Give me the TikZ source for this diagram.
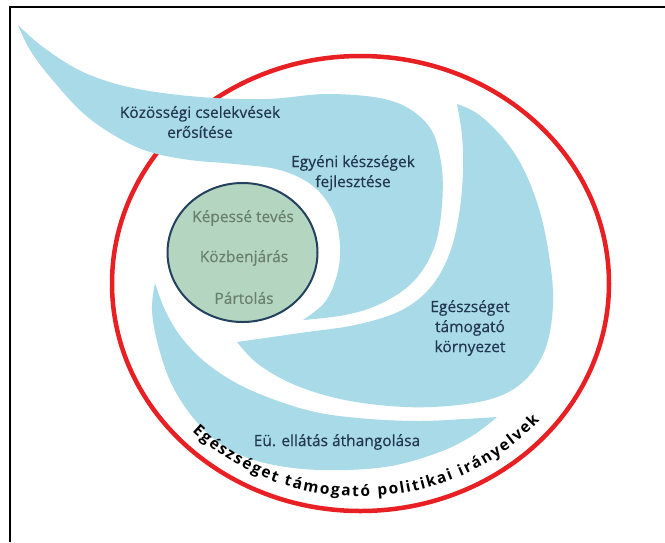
\documentclass[tikz,border=0pt]{standalone}
\usepackage{fontspec}
\setmainfont{Open Sans}
\newfontfamily\armfont{Open Sans}[FakeBold=0.4]
\usetikzlibrary{shapes.geometric,decorations.text}

\definecolor{swirlblue}{RGB}{168,218,231}
\definecolor{coregreen}{RGB}{180,214,192}
\definecolor{coreline}{RGB}{35,65,95}
\definecolor{ringred}{RGB}{232,32,36}
\definecolor{armink}{RGB}{35,55,80}
\definecolor{coreink}{RGB}{105,128,108}

\begin{document}
\begin{tikzpicture}[
  x=1pt, y=-1pt,
  arm/.style={fill=swirlblue, draw=none},
  armtext/.style={font=\armfont\fontsize{15.5}{20}\selectfont, text=armink, align=center},
  coretext/.style={font=\armfont\fontsize{15.5}{16}\selectfont, text=coreink}
]
\useasboundingbox (0,0) rectangle (665,542);
\fill[white] (0,0) rectangle (665,542);
\draw[line width=2pt] (10,542) -- (10,7) -- (665,7);

% Outer ring (policy)
\draw[ringred, line width=4.5pt] (360.5,283.5) ellipse [x radius=248.5, y radius=227.5];

% Swirl arms
\fill[arm] plot[smooth, tension=0.6] coordinates {(18,25) (43,47) (83,72) (133,88) (200,97) (267,99)
    (330,94) (392,101) (428,125) (441,162) (442,205) (434,248) (413,282) (380,304) (345,315) (303,320)}
  -- plot[smooth, tension=0.6] coordinates {(303,320) (325,302) (337,275) (340,245) (333,212)
    (313,186) (280,170) (235,164) (190,160) (150,152) (117,137) (83,113) (50,77) (30,50) (18,25)}
  -- cycle;
\fill[arm] plot[smooth, tension=0.6] coordinates {(457,104) (462,135) (463,172) (459,215) (449,255)
    (430,288) (400,311) (355,325) (300,333) (237,342)}
  -- plot[smooth, tension=0.6] coordinates {(237,342) (258,364) (295,385) (345,400) (405,407)
    (458,405) (500,396) (528,377) (546,347) (553,305) (550,262) (540,212) (523,168) (503,138) (478,114) (457,104)}
  -- cycle;
\fill[arm] plot[smooth, tension=0.6] coordinates {(155,283) (152,310) (158,345) (172,385) (195,420)
    (225,447) (265,463) (320,470) (385,467) (437,453) (472,436) (497,417)}
  -- plot[smooth, tension=0.6] coordinates {(497,417) (465,419) (420,421) (370,419) (320,413)
    (278,401) (238,384) (205,362) (181,337) (165,310) (155,283)}
  -- cycle;

% Core circle
\node[ellipse, draw=coreline, line width=2pt, fill=coregreen, minimum width=150, minimum height=139,
  inner sep=0pt] (core) at (242.5,252.5) {};
\node[coretext] (enable) at (243,218) {Képessé tevés};
\node[coretext] (mediate) at (244,258) {Közbenjárás};
\node[coretext] (advocate) at (244,298) {Pártolás};

% Arm labels
\node[armtext] (community) at (200,122) {Közösségi cselekvések\\erősítése};
\node[armtext] (skills) at (353,173) {Egyéni készségek\\fejlesztése};
\node[armtext] (environment) at (470,328) {Egészséget\\támogató\\környezet};
\node[armtext] (services) at (337,442) {Eü. ellátás áthangolása};

% Ring label
\path[decorate, decoration={text along path, text align={fit to path},
    text={|\fontsize{15.5}{15.5}\selectfont\bfseries|Egészséget támogató politikai irányelvek}}]
  (360.5,283.5) ++(136:234 and 213) arc[start angle=136, end angle=40, x radius=234, y radius=213];
\end{tikzpicture}
\end{document}
